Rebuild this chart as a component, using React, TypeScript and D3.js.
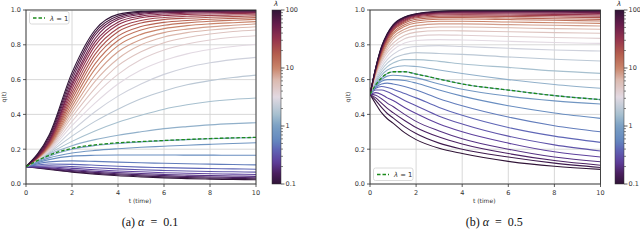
import React from 'react';
import * as d3 from 'd3';

// lambda values, log-spaced 0.1 .. 100 (colour key)
const lambdas = [0.1, 0.126, 0.158, 0.2, 0.251, 0.316, 0.398, 0.501, 0.631, 0.794, 1,
  1.26, 1.58, 2, 2.51, 3.16, 3.98, 5.01, 6.31, 7.94, 10,
  12.6, 15.8, 20, 25.1, 31.6, 39.8, 50.1, 63.1, 79.4, 100];

// (a) alpha = 0.1
const timesA = [0, 1, 2, 3, 4, 5, 6, 7, 8, 9, 10];
const curvesA = [
  [.10, .083, .068, .056, .047, .041, .035, .031, .028, .026, .024],
  [.10, .086, .072, .061, .053, .047, .041, .037, .034, .032, .030],
  [.10, .089, .077, .067, .059, .053, .048, .043, .040, .038, .036],
  [.10, .093, .082, .073, .066, .060, .055, .051, .048, .046, .044],
  [.10, .098, .090, .082, .075, .070, .065, .062, .059, .057, .055],
  [.10, .105, .100, .093, .087, .082, .078, .075, .072, .070, .068],
  [.10, .115, .113, .108, .102, .097, .094, .091, .089, .087, .085],
  [.10, .127, .133, .130, .126, .122, .119, .116, .114, .112, .110],
  [.10, .140, .160, .165, .167, .167, .167, .166, .166, .165, .165],
  [.10, .150, .178, .193, .203, .211, .217, .223, .228, .233, .237],
  [.10, .160, .200, .221, .233, .242, .249, .255, .260, .264, .267],
  [.10, .170, .220, .255, .280, .300, .318, .330, .340, .347, .352],
  [.10, .175, .245, .305, .355, .395, .430, .455, .474, .486, .494],
  [.10, .180, .275, .360, .430, .490, .535, .570, .594, .612, .626],
  [.10, .185, .305, .415, .505, .575, .630, .670, .697, .715, .728],
  [.10, .190, .335, .465, .575, .655, .710, .748, .773, .790, .803],
  [.10, .195, .360, .510, .630, .715, .770, .805, .828, .843, .852],
  [.10, .200, .385, .550, .680, .760, .812, .842, .862, .876, .885],
  [.10, .205, .405, .590, .720, .800, .845, .870, .885, .896, .904],
  [.10, .210, .425, .625, .760, .830, .870, .890, .903, .912, .920],
  [.10, .215, .445, .660, .795, .860, .893, .910, .920, .927, .933],
  [.10, .220, .465, .690, .825, .885, .912, .926, .935, .941, .946],
  [.10, .225, .485, .720, .850, .905, .929, .940, .947, .952, .956],
  [.10, .230, .505, .745, .875, .925, .945, .953, .958, .962, .966],
  [.10, .235, .525, .770, .895, .940, .957, .964, .968, .971, .973],
  [.10, .240, .545, .795, .915, .955, .968, .974, .977, .979, .981],
  [.10, .245, .565, .815, .930, .965, .977, .981, .984, .985, .986],
  [.10, .250, .580, .835, .945, .975, .984, .987, .989, .990, .990],
  [.10, .260, .600, .855, .955, .982, .989, .991, .992, .993, .993],
  [.10, .270, .620, .870, .965, .988, .993, .995, .996, .996, .996],
  [.10, .280, .640, .885, .975, .992, .996, .997, .998, .998, .998],
];
const greenA = [.10, .165, .205, .225, .237, .244, .250, .256, .261, .265, .268];

// (b) alpha = 0.5
const timesB = [0, 0.25, 0.5, 0.75, 1, 1.5, 2, 3, 4, 6, 8, 10];
const curvesB = [
  [.515, .46, .41, .375, .35, .295, .255, .205, .175, .13, .102, .084],
  [.515, .48, .44, .405, .38, .33, .29, .235, .2, .155, .12, .095],
  [.515, .495, .465, .435, .41, .365, .325, .27, .23, .175, .135, .108],
  [.515, .51, .49, .465, .445, .4, .36, .305, .26, .2, .155, .128],
  [.515, .525, .515, .495, .48, .44, .405, .345, .3, .235, .185, .155],
  [.515, .54, .54, .53, .515, .48, .45, .39, .345, .275, .225, .19],
  [.515, .55, .56, .555, .545, .52, .495, .44, .395, .325, .275, .239],
  [.515, .555, .575, .58, .575, .56, .54, .49, .45, .385, .335, .30],
  [.515, .56, .59, .6, .6, .595, .58, .54, .505, .45, .408, .377],
  [.515, .565, .6, .62, .625, .62, .61, .575, .545, .505, .478, .46],
  [.515, .57, .61, .635, .645, .645, .632, .603, .575, .54, .508, .485],
  [.515, .58, .625, .655, .67, .68, .675, .655, .635, .6, .572, .55],
  [.515, .59, .64, .675, .695, .715, .715, .705, .69, .67, .65, .636],
  [.515, .6, .655, .695, .72, .745, .755, .75, .745, .73, .717, .707],
  [.515, .61, .67, .715, .745, .78, .79, .795, .79, .78, .77, .764],
  [.515, .62, .685, .735, .77, .81, .825, .83, .828, .82, .813, .808],
  [.515, .625, .7, .755, .79, .835, .85, .857, .855, .848, .842, .837],
  [.515, .63, .71, .77, .81, .855, .873, .881, .88, .875, .87, .866],
  [.515, .635, .72, .785, .83, .875, .893, .902, .902, .898, .893, .889],
  [.515, .64, .73, .8, .845, .89, .91, .92, .92, .916, .912, .908],
  [.515, .645, .74, .81, .86, .905, .925, .935, .935, .931, .927, .923],
  [.515, .65, .75, .82, .87, .915, .937, .947, .948, .945, .941, .937],
  [.515, .652, .755, .83, .88, .925, .947, .956, .957, .954, .95, .946],
  [.515, .655, .76, .835, .885, .932, .955, .964, .965, .963, .96, .956],
  [.515, .658, .765, .84, .89, .938, .961, .971, .972, .97, .968, .965],
  [.515, .66, .77, .845, .895, .943, .966, .977, .978, .977, .975, .973],
  [.515, .662, .775, .85, .9, .948, .97, .982, .984, .983, .982, .98],
  [.515, .665, .78, .855, .905, .952, .973, .986, .988, .988, .987, .986],
  [.515, .667, .783, .858, .908, .955, .975, .989, .992, .992, .991, .991],
  [.515, .668, .787, .862, .912, .958, .977, .991, .995, .995, .995, .995],
  [.515, .67, .79, .865, .915, .96, .978, .993, .997, .998, .998, .998],
];
const greenB = [.515, .57, .61, .635, .645, .645, .632, .603, .575, .54, .508, .485];

const xTicks = [0, 2, 4, 6, 8, 10];
const yTicks = [0, 0.2, 0.4, 0.6, 0.8, 1.0];
const cbTicks = [0.1, 1, 10, 100];
const cbLabels = ['0.1', '1', '10', '100'];

// approx. matplotlib twilight_shifted
const twilightStops = ['#301437', '#4a1f5e', '#5e3d9a', '#5f66b6', '#6488bf', '#7aa0c4',
  '#a7c0cf', '#e2d9e2', '#dbb8ad', '#c9846a', '#b35c4d', '#94334d', '#661c4c', '#301437'];
const stopPos = [0, 0.06, 0.125, 0.2, 0.25, 0.333, 0.4, 0.5, 0.6, 0.667, 0.75, 0.833, 0.917, 1];
const twilight = d3.scaleLinear<string>().domain(stopPos).range(twilightStops).interpolate(d3.interpolateRgb);
const lamPos = d3.scaleLog().domain([0.1, 100]).range([0, 1]);

const TOP = 10, BOT = 184;
const FONT = 'DejaVu Sans, sans-serif';

function Panel(props: {
  id: string; x0: number; x1: number; times: number[]; curves: number[][]; green: number[];
  legendY: number; cbX: number; letter: string; alpha: string;
}) {
  const { id, x0, x1, times, curves, green, legendY, cbX, letter, alpha } = props;
  const x = d3.scaleLinear().domain([0, 10]).range([x0, x1]);
  const y = d3.scaleLinear().domain([0, 1]).range([BOT, TOP]);
  const line = d3.line<number>().x((_, i) => x(times[i])).y(d => y(d)).curve(d3.curveMonotoneX);
  const cb = d3.scaleLog().domain([0.1, 100]).range([BOT, TOP]);
  const minor: number[] = [];
  [0.1, 1, 10].forEach(dec => d3.range(2, 10).forEach(m => minor.push(dec * m)));
  const gradStops = d3.range(0, 1.0001, 0.02);
  const cx = (x0 + x1) / 2;
  return (
    <g>
      <defs>
        <linearGradient id={'cb' + id} x1="0" y1="1" x2="0" y2="0">
          {gradStops.map(s => <stop key={s} offset={s} stopColor={twilight(s)} />)}
        </linearGradient>
        <clipPath id={'clip' + id}><rect x={x0} y={TOP} width={x1 - x0} height={BOT - TOP} /></clipPath>
      </defs>
      {xTicks.map(t => <line key={'gx' + t} x1={x(t)} x2={x(t)} y1={TOP} y2={BOT} stroke="#d4d4d4" strokeWidth={0.9} />)}
      {yTicks.map(t => <line key={'gy' + t} x1={x0} x2={x1} y1={y(t)} y2={y(t)} stroke="#d4d4d4" strokeWidth={0.9} />)}
      <g clipPath={`url(#clip${id})`}>
        {curves.map((c, k) => (
          <path key={k} d={line(c) || ''} fill="none" stroke={twilight(lamPos(lambdas[k]))} strokeWidth={1.1} />
        ))}
        <path d={line(green) || ''} fill="none" stroke="#1b8a1b" strokeWidth={1.3} strokeDasharray="3.5,2" />
      </g>
      <rect x={x0} y={TOP} width={x1 - x0} height={BOT - TOP} fill="none" stroke="#333" strokeWidth={0.9} />
      {xTicks.map(t => (
        <g key={'xt' + t}>
          <line x1={x(t)} x2={x(t)} y1={BOT} y2={BOT + 3} stroke="#333" strokeWidth={0.8} />
          <text x={x(t)} y={BOT + 10.5} fontSize={6.5} fontFamily={FONT} fill="#333" textAnchor="middle">{t}</text>
        </g>
      ))}
      {yTicks.map(t => (
        <g key={'yt' + t}>
          <line x1={x0 - 3} x2={x0} y1={y(t)} y2={y(t)} stroke="#333" strokeWidth={0.8} />
          <text x={x0 - 5} y={y(t) + 2.3} fontSize={6.5} fontFamily={FONT} fill="#333" textAnchor="end">{t.toFixed(1)}</text>
        </g>
      ))}
      <text x={cx - 1} y={202.5} fontSize={6} fontFamily={FONT} fill="#333" textAnchor="middle">t (time)</text>
      <text transform={`translate(${x0 - 20},${(TOP + BOT) / 2}) rotate(-90)`} fontSize={6} fontFamily={FONT} fill="#333" textAnchor="middle">q(t)</text>
      {/* legend */}
      <rect x={x0 + 3.5} y={legendY} width={39.5} height={12.5} rx={2} fill="#fff" fillOpacity={0.85} stroke="#d0d0d0" strokeWidth={0.8} />
      <line x1={x0 + 7} x2={x0 + 19} y1={legendY + 6.5} y2={legendY + 6.5} stroke="#1b8a1b" strokeWidth={1.3} strokeDasharray="3.5,2" />
      <text x={x0 + 24} y={legendY + 9} fontSize={6.8} fontFamily={FONT} fill="#333">
        <tspan fontStyle="italic">λ</tspan> = 1
      </text>
      {/* colorbar */}
      <rect x={cbX} y={TOP} width={9} height={BOT - TOP} fill={`url(#cb${id})`} />
      <rect x={cbX} y={TOP} width={9} height={BOT - TOP} fill="none" stroke="#333" strokeWidth={0.5} />
      {minor.map(v => <line key={'m' + v} x1={cbX + 9} x2={cbX + 11} y1={cb(v)} y2={cb(v)} stroke="#333" strokeWidth={0.6} />)}
      {cbTicks.map((v, i) => (
        <g key={'cb' + v}>
          <line x1={cbX + 9} x2={cbX + 12.5} y1={cb(v)} y2={cb(v)} stroke="#333" strokeWidth={0.8} />
          <text x={cbX + 13.5} y={cb(v) + 2.3} fontSize={6.5} fontFamily={FONT} fill="#333">{cbLabels[i]}</text>
        </g>
      ))}
      <text x={cbX + 2} y={6} fontSize={7} fontFamily={FONT} fontStyle="italic" fill="#333">λ</text>
      {/* caption */}
      <text x={cx + 9} y={225.5} fontSize={12} fontFamily="Liberation Serif, serif" fill="#111" textAnchor="middle" xmlSpace="preserve">
        ({letter}) <tspan fontStyle="italic">α</tspan>  =  {alpha}
      </text>
    </g>
  );
}

export default function App() {
  return (
    <svg width={640} height={248} style={{ position: 'absolute', left: 0, top: 0, background: '#fff' }}>
      <rect width={640} height={248} fill="#fff" />
      <Panel id="a" x0={26} x1={256} times={timesA} curves={curvesA} green={greenA}
        legendY={11.5} cbX={272} letter="a" alpha="0.1" />
      <Panel id="b" x0={370} x1={600.5} times={timesB} curves={curvesB} green={greenB}
        legendY={168} cbX={615} letter="b" alpha="0.5" />
    </svg>
  );
}
